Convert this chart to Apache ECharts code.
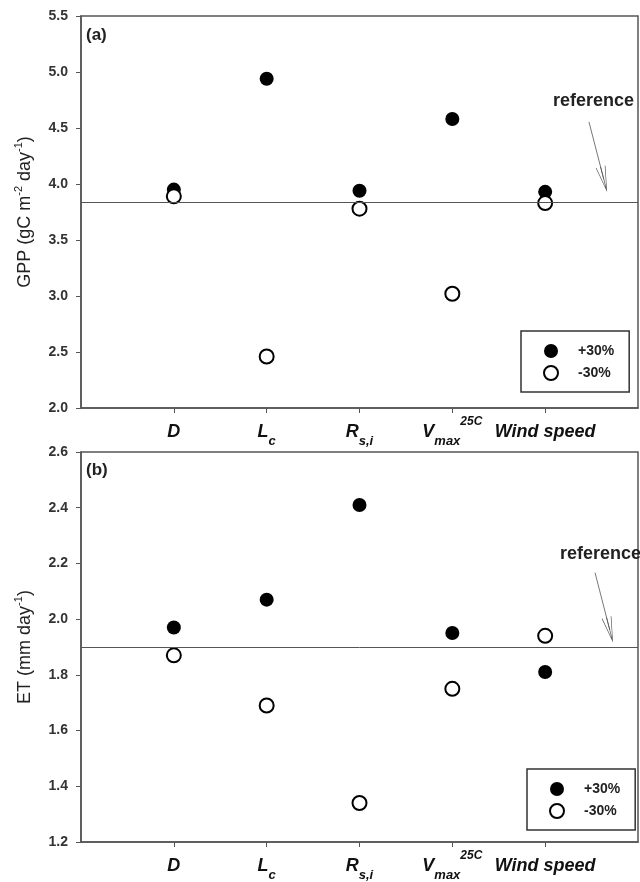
<!DOCTYPE html>
<html>
<head>
<meta charset="utf-8">
<script src="https://cdn.jsdelivr.net/npm/echarts@6/dist/echarts.min.js"></script>
<style>
  html, body { margin: 0; padding: 0; background: #fff; }
  #main { width: 640px; height: 882px; }
</style>
</head>
<body>
<div id="main"></div>
<script>
// sensitivity of GPP and ET to +/-30% changes of each parameter
var categories = ['D', 'Lc', 'Rs,i', 'Vmax25C', 'Wind speed'];
var catLabels = ['{m|D}', '{m|L}{s|c}', '{m|R}{s|s,i}', '{m|V}{s|max}{p|25C}', '{m|Wind speed}'];
var catPos = [1, 2, 3, 4, 5];

var gppPlus = [3.95, 4.94, 3.94, 4.58, 3.93];
var gppMinus = [3.89, 2.46, 3.78, 3.02, 3.83];
var gppRef = 3.84;
var gppTicks = [2.0, 2.5, 3.0, 3.5, 4.0, 4.5, 5.0, 5.5];

var etPlus = [1.97, 2.07, 2.41, 1.95, 1.81];
var etMinus = [1.87, 1.69, 1.34, 1.75, 1.94];
var etRef = 1.895;
var etTicks = [1.2, 1.4, 1.6, 1.8, 2.0, 2.2, 2.4, 2.6];

var seriesNames = ['+30%', '-30%'];

var FONT = '"Liberation Sans", Arial, sans-serif';
var AXIS = '#555';
// thin open arrow head with its own bit of shaft
var ARROW = 'path://M5,0 L10,26 L9.3,26 L5.35,5 L5.35,26 L4.65,26 L4.65,5 L0.7,26 L0,26 Z';

function pairs(vals) {
  return vals.map(function (v, i) { return [catPos[i], v]; });
}

function xAxisOf(idx) {
  return {
    type: 'value', gridIndex: idx, min: 0, max: catPos.length + 1, interval: 1,
    splitLine: { show: false },
    axisLine: { lineStyle: { color: AXIS, width: 1.5 } },
    axisTick: { customValues: catPos, length: 5, lineStyle: { color: AXIS } },
    axisLabel: {
      customValues: catPos, margin: 8,
      formatter: function (v) { return catLabels[catPos.indexOf(v)]; },
      rich: {
        m: { fontFamily: FONT, fontSize: 18, fontWeight: 'bold', fontStyle: 'italic', color: '#111', lineHeight: 32 },
        s: { fontFamily: FONT, fontSize: 13, fontWeight: 'bold', fontStyle: 'italic', color: '#111', lineHeight: 18, verticalAlign: 'bottom' },
        p: { fontFamily: FONT, fontSize: 12, fontWeight: 'bold', fontStyle: 'italic', color: '#111', lineHeight: 10, verticalAlign: 'top' }
      }
    }
  };
}

function yAxisOf(idx, ticks, name) {
  return {
    type: 'value', gridIndex: idx,
    min: ticks[0], max: ticks[ticks.length - 1],
    interval: Number((ticks[1] - ticks[0]).toFixed(2)),
    name: name, nameLocation: 'middle', nameGap: 44, nameRotate: 90,
    nameTextStyle: {
      rich: {
        n: { fontFamily: FONT, fontSize: 18, color: '#222', lineHeight: 24 },
        u: { fontFamily: FONT, fontSize: 11, color: '#222', lineHeight: 11, verticalAlign: 'top' }
      }
    },
    splitLine: { show: false },
    axisLine: { show: true, lineStyle: { color: AXIS, width: 1.5 } },
    axisTick: { show: true, length: 5, lineStyle: { color: AXIS } },
    axisLabel: {
      fontFamily: FONT, fontSize: 14, fontWeight: 'bold', color: '#333', margin: 13,
      formatter: function (v) { return v.toFixed(1); }
    }
  };
}

function panelSeries(idx, plus, minus, refVal, arrow) {
  return [
    {
      name: seriesNames[0], type: 'scatter', xAxisIndex: idx, yAxisIndex: idx,
      symbol: 'circle', symbolSize: 14,
      itemStyle: { color: '#000', opacity: 1 },
      data: pairs(plus),
      markLine: {
        silent: true, symbol: ['none', 'none'], label: { show: false },
        lineStyle: { color: '#555', width: 1, type: 'solid' },
        data: [{ yAxis: refVal }]
      }
    },
    {
      name: seriesNames[1], type: 'scatter', xAxisIndex: idx, yAxisIndex: idx,
      symbol: 'emptyCircle', symbolSize: 14,
      itemStyle: { color: '#000', borderWidth: 1.3, opacity: 1 },
      data: pairs(minus),
      markLine: {
        silent: true, symbol: ['none', ARROW],
        symbolSize: [10, 26], label: { show: false },
        lineStyle: { color: '#555', width: 0.8, type: 'solid' },
        data: [[{ coord: arrow[0] }, { coord: arrow[1] }]]
      }
    }
  ];
}

function legendOf(left, top) {
  return {
    left: left, top: top, orient: 'vertical', data: seriesNames,
    itemWidth: 44, itemHeight: 14, itemGap: 7,
    padding: [13, 15, 11, 22],
    borderColor: '#333', borderWidth: 1.5,
    selectedMode: false,
    textStyle: { fontFamily: FONT, fontSize: 14, fontWeight: 'bold', color: '#222' }
  };
}

var chart = echarts.init(document.getElementById('main'));

var option = {
  backgroundColor: '#fff',
  animation: false,
  grid: [
    { left: 81, top: 16, width: 557, height: 392, show: true, borderColor: AXIS, borderWidth: 1.5 },
    { left: 81, top: 452, width: 557, height: 391, show: true, borderColor: AXIS, borderWidth: 1.5 }
  ],
  xAxis: [xAxisOf(0), xAxisOf(1)],
  yAxis: [
    yAxisOf(0, gppTicks, '{n|GPP (gC m}{u|-2}{n| day}{u|-1}{n|)}'),
    yAxisOf(1, etTicks, '{n|ET (mm day}{u|-1}{n|)}')
  ],
  legend: [legendOf(521, 331), legendOf(527, 769)],
  graphic: [
    { type: 'text', x: 86, y: 35, style: { text: '(a)', font: 'bold 17px ' + FONT, fill: '#222', verticalAlign: 'middle' } },
    { type: 'text', x: 86, y: 470, style: { text: '(b)', font: 'bold 17px ' + FONT, fill: '#222', verticalAlign: 'middle' } },
    { type: 'text', x: 553, y: 101, style: { text: 'reference', font: 'bold 18px ' + FONT, fill: '#222', verticalAlign: 'middle' } },
    { type: 'text', x: 560, y: 554, style: { text: 'reference', font: 'bold 18px ' + FONT, fill: '#222', verticalAlign: 'middle' } }
  ],
  series: [].concat(
    panelSeries(0, gppPlus, gppMinus, gppRef, [[5.472, 4.554], [5.632, 4.041]]),
    panelSeries(1, etPlus, etMinus, etRef, [[5.537, 2.167], [5.696, 1.961]])
  )
};

chart.setOption(option);
</script>
</body>
</html>
